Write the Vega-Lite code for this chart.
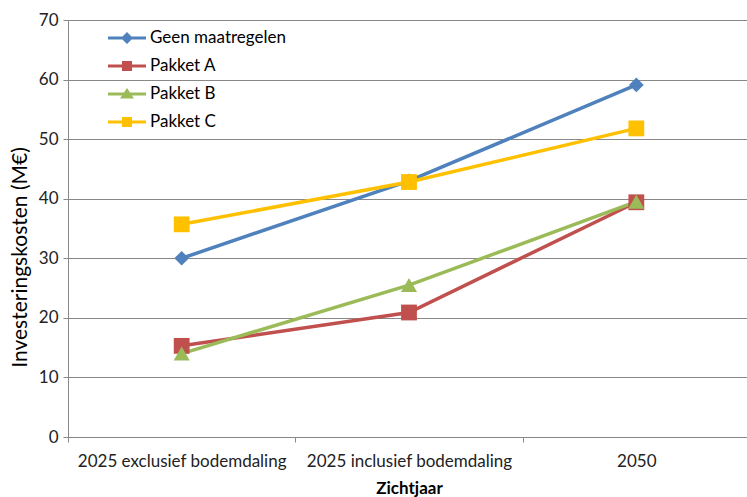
{
  "$schema": "https://vega.github.io/schema/vega-lite/v6.json",
  "width": 682,
  "height": 417,
  "autosize": {"type": "none"},
  "padding": {"left": 68, "top": 20, "right": 0, "bottom": 60},
  "background": "white",
  "config": {
    "font": "Lato",
    "view": {"stroke": null},
    "axis": {"labelFont": "Lato", "titleFont": "Lato", "labelColor": "#222", "titleColor": "#000", "domainColor": "#888", "tickColor": "#888", "gridColor": "#888"}
  },
  "data": {
    "values": [
      {"serie": "Geen maatregelen", "zichtjaar": "2025 exclusief bodemdaling", "kosten": 30.0},
      {"serie": "Geen maatregelen", "zichtjaar": "2025 inclusief bodemdaling", "kosten": 43.0},
      {"serie": "Geen maatregelen", "zichtjaar": "2050", "kosten": 59.1},
      {"serie": "Pakket A", "zichtjaar": "2025 exclusief bodemdaling", "kosten": 15.3},
      {"serie": "Pakket A", "zichtjaar": "2025 inclusief bodemdaling", "kosten": 20.9},
      {"serie": "Pakket A", "zichtjaar": "2050", "kosten": 39.4},
      {"serie": "Pakket B", "zichtjaar": "2025 exclusief bodemdaling", "kosten": 14.0},
      {"serie": "Pakket B", "zichtjaar": "2025 inclusief bodemdaling", "kosten": 25.5},
      {"serie": "Pakket B", "zichtjaar": "2050", "kosten": 39.5},
      {"serie": "Pakket C", "zichtjaar": "2025 exclusief bodemdaling", "kosten": 35.7},
      {"serie": "Pakket C", "zichtjaar": "2025 inclusief bodemdaling", "kosten": 42.8},
      {"serie": "Pakket C", "zichtjaar": "2050", "kosten": 51.8}
    ]
  },
  "encoding": {
    "x": {
      "field": "zichtjaar", "type": "nominal", "sort": null,
      "scale": {"paddingInner": 0, "paddingOuter": 0},
      "axis": {"title": "Zichtjaar", "labelAngle": 0, "labelFontSize": 17, "labelLimit": 0, "labelPadding": 11, "titleFontSize": 17, "titleFontWeight": "bold", "titlePadding": 11, "tickBand": "extent", "tickSize": 5, "grid": false, "domainWidth": 1}
    },
    "y": {
      "field": "kosten", "type": "quantitative",
      "scale": {"domain": [0, 70], "nice": false},
      "axis": {"title": "Investeringskosten (M€)", "values": [0, 10, 20, 30, 40, 50, 60, 70], "labelFontSize": 17, "labelPadding": 5, "tickSize": 5, "titleFontSize": 21, "titleFontWeight": "normal", "titlePadding": 8, "titleY": 237, "grid": true, "gridWidth": 1}
    },
    "color": {"field": "serie", "type": "nominal",
      "scale": {"domain": ["Geen maatregelen", "Pakket A", "Pakket B", "Pakket C"], "range": ["#4F81BD", "#C0504D", "#9BBB59", "#FFC000"]},
      "legend": {"title": null, "orient": "none", "legendX": 49, "legendY": 8, "padding": 0, "symbolSize": 400, "symbolStrokeWidth": 0, "labelOffset": 13, "labelFontSize": 17, "labelFont": "Lato", "labelColor": "#000", "rowPadding": 10}}
  },
  "layer": [
    {
      "mark": {"type": "line", "strokeWidth": 3.5}
    },
    {
      "transform": [{"filter": "datum.serie === 'Geen maatregelen'"}],
      "mark": {"type": "point", "shape": "diamond", "size": 215, "filled": true, "opacity": 1, "strokeWidth": 0}
    },
    {
      "transform": [{"filter": "datum.serie === 'Pakket A' || datum.serie === 'Pakket C'"}],
      "mark": {"type": "point", "shape": "square", "size": 250, "filled": true, "opacity": 1, "strokeWidth": 0}
    },
    {
      "transform": [{"filter": "datum.serie === 'Pakket B'"}],
      "mark": {"type": "point", "shape": "triangle-up", "size": 260, "filled": true, "opacity": 1, "strokeWidth": 0}
    },
    {
      "transform": [{"filter": "datum.kosten < 0"}],
      "mark": {"type": "point", "filled": true, "opacity": 1},
      "encoding": {
        "shape": {"field": "serie", "type": "nominal",
          "scale": {"domain": ["Geen maatregelen", "Pakket A", "Pakket B", "Pakket C"], "range": [
            "M-1.9,-0.15H1.9V0.15H-1.9Z M0,-0.6L0.6,0L0,0.6L-0.6,0Z",
            "M-1.9,-0.15H1.9V0.15H-1.9Z M-0.5,-0.5H0.5V0.5H-0.5Z",
            "M-1.9,-0.15H1.9V0.15H-1.9Z M0,-0.6L0.7,0.45H-0.7Z",
            "M-1.9,-0.15H1.9V0.15H-1.9Z M-0.5,-0.5H0.5V0.5H-0.5Z"]},
          "legend": {"title": null, "orient": "none", "legendX": 49, "legendY": 8, "padding": 0, "symbolSize": 400, "symbolStrokeWidth": 0, "labelOffset": 13, "labelFontSize": 17, "labelFont": "Lato", "labelColor": "#000", "rowPadding": 10}}
      }
    }
  ]
}
